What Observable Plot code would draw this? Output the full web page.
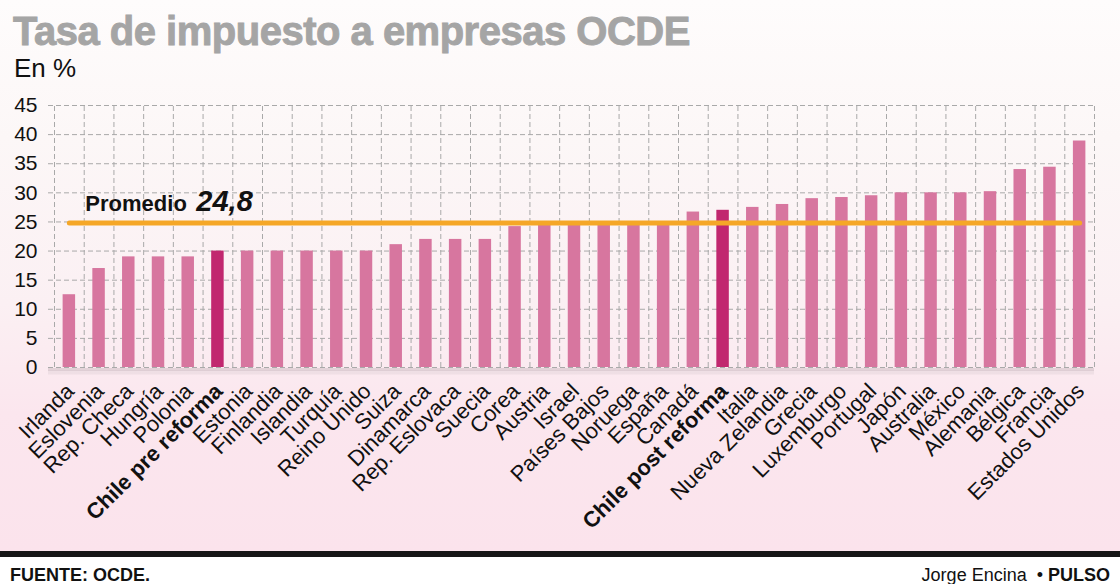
<!DOCTYPE html>
<html>
<head>
<meta charset="utf-8">
<script src="https://cdn.jsdelivr.net/npm/d3@7"></script>
<script src="https://cdn.jsdelivr.net/npm/@observablehq/plot@0.6"></script>
<style>
  html, body { margin: 0; padding: 0; background: #ffffff; }
  #page { position: relative; width: 1120px; height: 584px; overflow: hidden; font-family: "Liberation Sans", Arial, sans-serif; }
  #bg { position: absolute; left: 0; top: 0; width: 1120px; height: 551px;
        background: linear-gradient(to bottom, #fefcfc 0%, #fcf7f7 25%, #fbf0f3 55%, #fbe6ee 75%, #fbe3ec 100%); }
  #chart { position: absolute; left: 0; top: 0; }
  #title { position: absolute; left: 13px; top: 11px; font-size: 40px; line-height: 1; font-weight: bold;
           color: #a5a5a5; -webkit-text-stroke: 0.9px #a5a5a5; letter-spacing: -0.5px; white-space: nowrap; }
  #subtitle { position: absolute; left: 14px; top: 55px; font-size: 26px; line-height: 1; color: #111; white-space: nowrap; }
  #bar { position: absolute; left: 0; top: 551px; width: 1120px; height: 6px; background: #161616; }
  #source { position: absolute; left: 10px; top: 566px; font-size: 18px; line-height: 1; font-weight: bold; color: #111; white-space: nowrap; }
  #credit { position: absolute; right: 10px; top: 566px; font-size: 18px; line-height: 1; color: #111; white-space: nowrap; }
  #credit b { font-weight: bold; }
</style>
</head>
<body>
<div id="page">
  <div id="bg"></div>
  <div id="chart"></div>
  <div id="title">Tasa de impuesto a empresas OCDE</div>
  <div id="subtitle">En %</div>
  <div id="bar"></div>
  <div id="source">FUENTE: OCDE.</div>
  <div id="credit">Jorge Encina &nbsp;• <b>PULSO</b></div>
</div>
<script>
const countries = [
  "Irlanda", "Eslovenia", "Rep. Checa", "Hungría", "Polonia", "Chile pre reforma",
  "Estonia", "Finlandia", "Islandia", "Turquía", "Reino Unido", "Suiza", "Dinamarca",
  "Rep. Eslovaca", "Suecia", "Corea", "Austria", "Israel", "Países Bajos", "Noruega",
  "España", "Canadá", "Chile post reforma", "Italia", "Nueva Zelandia", "Grecia",
  "Luxemburgo", "Portugal", "Japón", "Australia", "México", "Alemania", "Bélgica",
  "Francia", "Estados Unidos"
];
const rates = [
  12.5, 17, 19, 19, 19, 20,
  20, 20, 20, 20, 20, 21.1, 22,
  22, 22, 24.2, 25, 25, 25, 25,
  25, 26.7, 27, 27.5, 28, 29,
  29.2, 29.5, 30, 30, 30, 30.2, 34,
  34.4, 38.9
];
const highlighted = ["Chile pre reforma", "Chile post reforma"];
const average = 24.8;
const averageLabel = "Promedio";
const averageValueLabel = "24,8";
const yTicks = [0, 5, 10, 15, 20, 25, 30, 35, 40, 45];

const data = countries.map((c, i) => ({country: c, rate: rates[i]}));
const avgLine = [countries[0], countries[countries.length - 1]].map(c => ({country: c, value: average}));

const xRange = [54, 1094];
const halfStep = (xRange[1] - xRange[0]) / countries.length / 2;
const font = "'Liberation Sans', Arial, sans-serif";
const pink = "#d7769f";
const pinkDark = "#c1276f";

const chart = Plot.plot({
  width: 1120,
  height: 551,
  marginTop: 105,
  marginBottom: 184,
  marginLeft: 48,
  marginRight: 26,
  style: {background: "transparent", fontFamily: font, fontSize: "21px", color: "#111", overflow: "visible"},
  x: {type: "band", domain: countries, range: xRange, round: false, paddingInner: 0.58, paddingOuter: 0.29, axis: null},
  y: {domain: [0, 45], axis: null},
  marks: [
    Plot.ruleY(yTicks, {stroke: "#a9a9a9", strokeWidth: 1, strokeDasharray: "5,3"}),
    Plot.ruleX(countries, {x: d => d, y1: 0, y2: 45, dx: -halfStep, stroke: "#a9a9a9", strokeWidth: 1, strokeDasharray: "5,3"}),
    Plot.ruleX([countries[countries.length - 1]], {x: d => d, y1: 0, y2: 45, dx: halfStep, stroke: "#a9a9a9", strokeWidth: 1, strokeDasharray: "5,3"}),
    Plot.ruleY([0], {stroke: "#8e7f85", strokeOpacity: 0.22, strokeWidth: 3, dy: 2}),
    Plot.ruleY([0], {stroke: "#8e7f85", strokeOpacity: 0.1, strokeWidth: 4, dy: 5}),
    Plot.barY(data, {x: "country", y: "rate", fill: d => highlighted.includes(d.country) ? pinkDark : pink}),
    Plot.lineY(avgLine, {x: "country", y: "value", stroke: "#f5a727", strokeWidth: 5, strokeLinecap: "round"}),
    Plot.text([averageLabel], {x: () => countries[0], y: () => average, text: d => d, textAnchor: "start", lineAnchor: "bottom",
      dx: 16, dy: -12.6, fontSize: 22, fontWeight: "bold", fill: "#111", fontFamily: font}),
    Plot.text([averageValueLabel], {x: () => countries[0], y: () => average, text: d => d, textAnchor: "start", lineAnchor: "bottom",
      dx: 127, dy: -12.6, fontSize: 29, fontWeight: "bold", fontStyle: "italic", fill: "#111", fontFamily: font}),
    Plot.axisY(yTicks, {tickSize: 0, tickPadding: 11, label: null, fontSize: 21, fill: "#111"}),
    Plot.text(countries.filter(c => !highlighted.includes(c)), {x: d => d, text: d => d, frameAnchor: "bottom",
      rotate: -45, textAnchor: "end", lineAnchor: "middle", dx: 1, dy: 20, fontSize: 22, fill: "#111", fontFamily: font}),
    Plot.text(highlighted, {x: d => d, text: d => d, frameAnchor: "bottom",
      rotate: -45, textAnchor: "end", lineAnchor: "middle", dx: 1, dy: 20, fontSize: 22, fontWeight: "bold", fill: "#111", fontFamily: font})
  ]
});
document.getElementById("chart").appendChild(chart);
</script>
</body>
</html>
